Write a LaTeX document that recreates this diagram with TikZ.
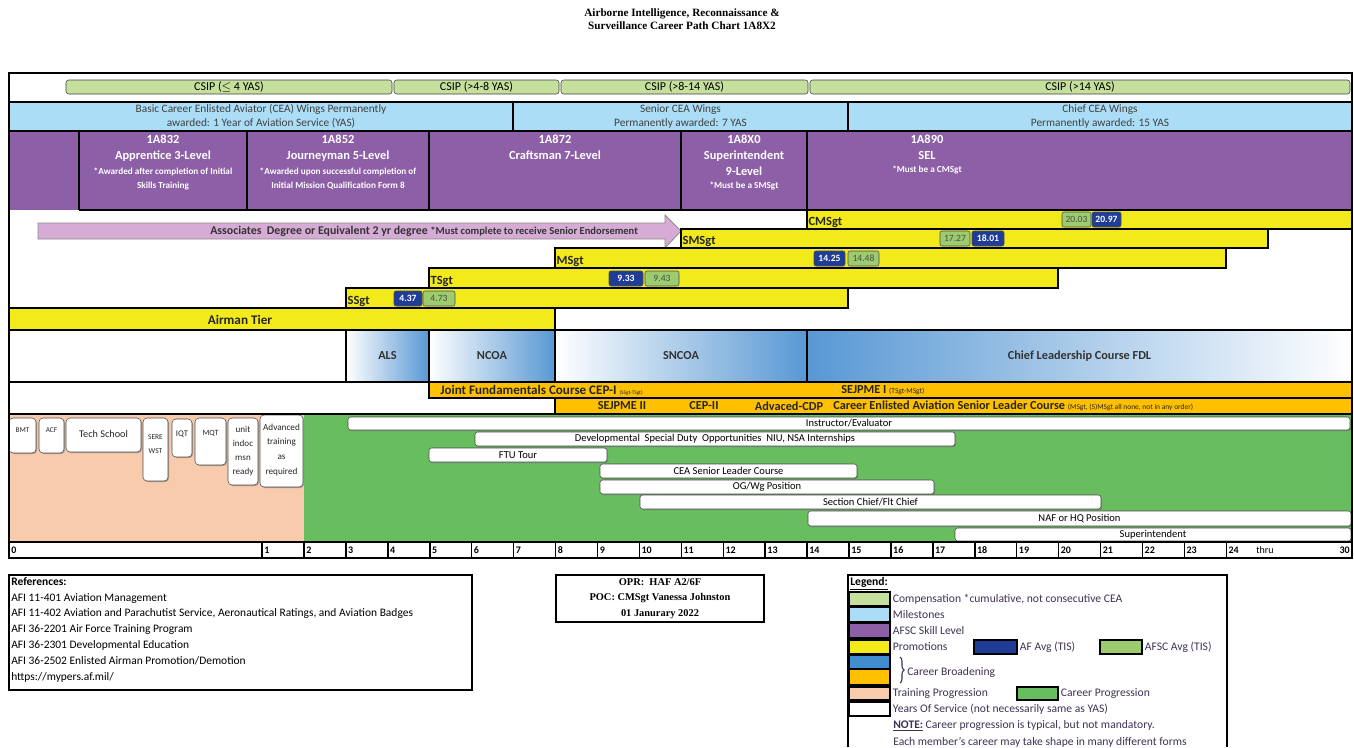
\documentclass[tikz,border=0pt]{standalone}
\usepackage{fontspec}
\setmainfont{Carlito}
\newfontfamily\titlefont{Liberation Serif}
\usetikzlibrary{positioning, fit, shadows, decorations.pathreplacing}

\definecolor{csipgreen}{RGB}{197,224,156}
\definecolor{mileblue}{RGB}{171,221,246}
\definecolor{afscpurple}{RGB}{141,95,167}
\definecolor{promoyellow}{RGB}{242,234,26}
\definecolor{afblue}{RGB}{31,61,150}
\definecolor{afscgreen}{RGB}{156,204,110}
\definecolor{brdblue}{RGB}{88,152,212}
\definecolor{lgblue}{RGB}{64,142,208}
\definecolor{pmeorange}{RGB}{255,192,0}
\definecolor{trainpeach}{RGB}{248,203,173}
\definecolor{careergreen}{RGB}{104,189,94}
\definecolor{degreepink}{RGB}{214,171,214}
\definecolor{legendtext}{RGB}{64,49,82}

\begin{document}
\begin{tikzpicture}[x=0.75pt, y=-0.75pt,
  cell/.style={inner sep=0pt, outer sep=0pt},
  boxtxt/.style={inner sep=0pt, align=center},
  csip/.style={cell, draw=black!75, fill=csipgreen, rounded corners=2pt,
    label={[boxtxt, font=\fontsize{9}{10}\selectfont]center:#1}},
  mile/.style={cell, fill=mileblue,
    label={[boxtxt, text=black!75, font=\fontsize{8.5}{10.5}\selectfont]center:#1}},
  afsc/.style={cell, fill=afscpurple},
  afsctxt/.style={inner sep=0pt, text=white, align=center,
    font=\bfseries\fontsize{9.3}{12}\selectfont},
  afscnote/.style={inner sep=0pt, text=white, align=center,
    font=\bfseries\fontsize{6.9}{10.5}\selectfont},
  promo/.style={cell, draw=black, line width=1pt, fill=promoyellow},
  rank/.style={inner sep=1pt, anchor=south west, text=black!85,
    font=\bfseries\fontsize{9.4}{10}\selectfont},
  afavg/.style={cell, draw=black!70, fill=afblue, rounded corners=1.5pt,
    label={[boxtxt, text=white, font=\bfseries\fontsize{7.2}{8}\selectfont]center:#1}},
  afscavg/.style={cell, draw=black!70, fill=afscgreen, rounded corners=1.5pt,
    label={[boxtxt, text=black!70, font=\fontsize{7.2}{8}\selectfont]center:#1}},
  brd/.style={cell, left color=white, right color=brdblue,
    label={[boxtxt, text=black!80, font=\bfseries\fontsize{9.2}{10}\selectfont]center:#1}},
  pme/.style={cell, fill=pmeorange},
  pmetxt/.style={inner sep=0pt, anchor=west, text=black!85,
    font=\bfseries\fontsize{9.2}{10}\selectfont},
  trainbox/.style={cell, draw=black!70, fill=white, rounded corners=3pt,
    drop shadow={shadow xshift=0.8pt, shadow yshift=-0.8pt, fill=black!60}},
  traintxt/.style={inner sep=0pt, align=center, text=black!85},
  job/.style={cell, draw=black!70, fill=white, rounded corners=2pt,
    drop shadow={shadow xshift=0.8pt, shadow yshift=-0.8pt, fill=black!60},
    label={[boxtxt, font=\fontsize{7.9}{8}\selectfont]center:#1}},
  yr/.style={inner sep=1.5pt, anchor=west, font=\bfseries\fontsize{7.5}{8}\selectfont},
  frame/.style={line width=1.6pt},
  rule/.style={line width=1.1pt},
  swatch/.style={cell, draw=black, line width=1.2pt},
  lgtxt/.style={inner sep=0pt, anchor=west, text=legendtext,
    font=\fontsize{8.7}{9}\selectfont},
]
\useasboundingbox (0,0) rectangle (1354,747);

% Title
\node[align=center, font=\titlefont\bfseries\fontsize{8.4}{9.8}\selectfont] (title)
  at (682,19) {Airborne Intelligence, Reconnaissance \&\\Surveillance Career Path Chart 1A8X2};

% CSIP
\node[csip={CSIP (\(\leq\) 4 YAS)}, fit={(66,80) (392,94)}] (csip1) {};
\node[csip={CSIP (>4-8 YAS)}, fit={(394,80) (559,94)}] (csip2) {};
\node[csip={CSIP (>8-14 YAS)}, fit={(561,80) (808,94)}] (csip3) {};
\node[csip={CSIP (>14 YAS)}, fit={(810,80) (1350,94)}] (csip4) {};

% Milestones
\node[mile={Basic Career Enlisted Aviator (CEA) Wings Permanently\\awarded: 1 Year of Aviation Service (YAS)},
  fit={(9,102) (513,131)}] (wings1) {};
\node[mile={Senior CEA Wings\\Permanently awarded: 7 YAS}, fit={(513,102) (848,131)}] (wings2) {};
\node[mile={Chief CEA Wings\\Permanently awarded: 15 YAS}, fit={(848,102) (1352,131)}] (wings3) {};

% Skill levels
\node[afsc, fit={(9,131) (1352,210)}] (afscrow) {};
\node[afsctxt, anchor=north] (lvl3) at (163,135) {1A832\\Apprentice 3-Level};
\node[afscnote, below=4pt of lvl3] (lvl3note) {*Awarded after completion of Initial\\Skills Training};
\node[afsctxt, anchor=north] (lvl5) at (338,135) {1A852\\Journeyman 5-Level};
\node[afscnote, below=4pt of lvl5] (lvl5note) {*Awarded upon successful completion of\\Initial Mission Qualification Form 8};
\node[afsctxt, anchor=north] (lvl7) at (555,135) {1A872\\Craftsman 7-Level};
\node[afsctxt, anchor=north] (lvl9) at (744,135) {1A8X0\\Superintendent\\9-Level};
\node[afscnote, below=4pt of lvl9] (lvl9note) {*Must be a SMSgt};
\node[afsctxt, anchor=north] (lvlsel) at (927,135) {1A890\\SEL};
\node[afscnote, below=4pt of lvlsel] (lvlselnote) {*Must be a CMSgt};

% Degree arrow
\filldraw[fill=degreepink, draw=black!45, line width=0.6pt]
  (38,223) -- (665,223) -- (665,215) -- (681,231) -- (665,248) -- (665,239) -- (38,239) -- cycle;
\node[inner sep=0pt, anchor=west, text=black!80, font=\bfseries\fontsize{8.9}{9}\selectfont] (degree)
  at (210,231) {Associates\ \ Degree or Equivalent 2 yr degree {\fontsize{7.9}{8}\selectfont *Must complete to receive Senior Endorsement}};

% Promotions
\node[promo, fit={(807,210) (1352,229)}] (cmsgt) {};
\node[rank] (cmsgtlbl) at (cmsgt.south west) {CMSgt};
\node[afscavg=20.03, fit={(1062,212) (1091,227)}] (cmsgtafsc) {};
\node[afavg=20.97, fit={(1092,212) (1121,227)}] (cmsgtaf) {};

\node[promo, fit={(681,229) (1268,248)}] (smsgt) {};
\node[rank] (smsgtlbl) at (smsgt.south west) {SMSgt};
\node[afscavg=17.27, fit={(940,231) (970,246)}] (smsgtafsc) {};
\node[afavg=18.01, fit={(972,231) (1004,246)}] (smsgtaf) {};

\node[promo, fit={(555,248) (1226,268)}] (msgt) {};
\node[rank] (msgtlbl) at (msgt.south west) {MSgt};
\node[afavg=14.25, fit={(814,251) (845,266)}] (msgtaf) {};
\node[afscavg=14.48, fit={(848,251) (879,266)}] (msgtafsc) {};

\node[promo, fit={(429,268) (1058,288)}] (tsgt) {};
\node[rank] (tsgtlbl) at (tsgt.south west) {TSgt};
\node[afavg=9.33, fit={(609,271) (643,286)}] (tsgtaf) {};
\node[afscavg=9.43, fit={(645,271) (679,286)}] (tsgtafsc) {};

\node[promo, fit={(346,288) (848,308)}] (ssgt) {};
\node[rank] (ssgtlbl) at (ssgt.south west) {SSgt};
\node[afavg=4.37, fit={(394,291) (422,306)}] (ssgtaf) {};
\node[afscavg=4.73, fit={(423,291) (455,306)}] (ssgtafsc) {};

\node[promo, fit={(9,308) (555,330)}] (airman) {};
\node[inner sep=0pt, text=black!85, font=\bfseries\fontsize{9.9}{10}\selectfont] (airmanlbl)
  at (240,320) {Airman Tier};

% Career broadening (PME)
\node[brd=ALS, fit={(346,330) (429,382)}] (als) {};
\node[brd=NCOA, fit={(429,330) (555,382)}] (ncoa) {};
\node[brd=SNCOA, fit={(555,330) (807,382)}] (sncoa) {};
\node[brd={Chief Leadership Course FDL}, left color=brdblue, right color=white,
  fit={(807,330) (1352,382)}] (clc) {};

\node[pme, fit={(429,382) (1352,398)}] (pmetop) {};
\node[pme, fit={(555,398) (1352,414)}] (pmebot) {};
\node[pmetxt, font=\bfseries\fontsize{9.8}{10}\selectfont] (jfc) at (440,390)
  {Joint Fundamentals Course CEP-I {\fontsize{4}{5}\selectfont\mdseries (SSgt-TSgt)}};
\node[pmetxt] (sejpme1) at (841,390)
  {SEJPME I {\fontsize{5.6}{6}\selectfont\mdseries (TSgt-MSgt)}};
\node[pmetxt, anchor=center] (sejpme2) at (622,406) {SEJPME II};
\node[pmetxt, anchor=center] (cep2) at (704,406) {CEP-II};
\node[pmetxt, anchor=center] (acdp) at (789,406) {Advaced-CDP};
\node[pmetxt] (ceaslc) at (833,406)
  {Career Enlisted Aviation Senior Leader Course\ {\fontsize{5.6}{6}\selectfont\mdseries (MSgt, (S)MSgt all none, not in any order)}};

% Training progression
\node[cell, fill=trainpeach, fit={(9,414) (304,542)}] (trainarea) {};
\node[cell, fill=careergreen, fit={(304,414) (1352,542)}] (careerarea) {};

\node[trainbox, fit={(9,418) (36,453)}] (bmt) {};
\node[traintxt, font=\fontsize{5.5}{6}\selectfont] (bmttxt) at (22.5,430) {BMT};
\node[trainbox, fit={(39,418) (64,453)}] (acf) {};
\node[traintxt, font=\fontsize{5.5}{6}\selectfont] (acftxt) at (51.5,430) {ACF};
\node[trainbox, fit={(66,418) (141,452)}] (tech) {};
\node[traintxt, font=\fontsize{7.7}{8}\selectfont] (techtxt) at (103.5,434) {Tech School};
\node[trainbox, fit={(143,418) (168,481)}] (sere) {};
\node[traintxt, font=\fontsize{5.6}{10.5}\selectfont] (seretxt) at (155.5,444) {SERE\\WST};
\node[trainbox, fit={(172,419) (192,457)}] (iqt) {};
\node[traintxt, font=\fontsize{6.5}{7}\selectfont] (iqttxt) at (182,434) {IQT};
\node[trainbox, fit={(195,418) (226,465)}] (mqt) {};
\node[traintxt, font=\fontsize{6}{7}\selectfont] (mqttxt) at (210.5,433) {MQT};
\node[trainbox, fit={(228,418) (258,485)}] (unit) {};
\node[traintxt, font=\fontsize{6.8}{10.5}\selectfont] (unittxt) at (243,451) {unit\\indoc\\msn\\ready};
\node[trainbox, fit={(260,415) (303,487)}] (adv) {};
\node[traintxt, font=\fontsize{6.9}{11.2}\selectfont] (advtxt) at (281.5,450) {Advanced\\training\\as\\required};

% Career progression
\node[job=Instructor/Evaluator, fit={(348,417) (1350,430)}] (instr) {};
\node[job={Developmental\ \ Special Duty\ \ Opportunities\ \ NIU, NSA Internships},
  fit={(475,432) (955,446)}] (dsd) {};
\node[job={FTU Tour}, fit={(429,448) (607,462)}] (ftu) {};
\node[job={CEA Senior Leader Course}, fit={(600,464) (857,478)}] (slc) {};
\node[job={OG/Wg Position}, fit={(600,480) (934,494)}] (ogwg) {};
\node[job={Section Chief/Flt Chief}, fit={(640,495) (1101,509)}] (secchief) {};
\node[job={NAF or HQ Position}, fit={(808,511) (1351,526)}] (nafhq) {};
\node[job=Superintendent, fit={(955,528) (1351,541)}] (supt) {};

% Years of service
\node[yr] (yr0) at (9,550) {0};
\foreach \n in {1,...,24}{
  \draw[rule] ({220.2+41.92*\n},542) -- ({220.2+41.92*\n},558);
  \node[yr] (yr\n) at ({220.2+41.92*\n},550) {\n};
}
\node[inner sep=0pt, font=\fontsize{7.5}{8}\selectfont] (thru) at (1265,550) {thru};
\node[yr, anchor=east] (yr30) at (1352,550) {30};

% Chart rules
\draw[rule] (9,102) -- (1352,102);
\draw[rule] (9,131) -- (1352,131);
\foreach \x in {513,848} \draw[rule] (\x,102) -- (\x,131);
\foreach \x in {79,247,429,681,807} \draw[rule] (\x,131) -- (\x,210);
\draw[rule] (79,210) -- (1352,210);
\draw[rule] (9,330) -- (1352,330);
\foreach \x in {346,429,555,807} \draw[rule] (\x,330) -- (\x,382);
\draw[rule] (9,382) -- (1352,382);
\draw[rule] (429,382) -- (429,398) -- (1352,398);
\draw[rule] (555,398) -- (555,414);
\draw[rule] (9,414) -- (1352,414);
\draw[rule] (9,542) -- (1352,542);
\draw[frame] (9,73) rectangle (1352,558);

% References
\node[cell, draw, line width=1.2pt, fit={(9,575) (472,690)}] (refbox) {};
\node[anchor=north west, align=left, inner sep=0pt, font=\fontsize{8.6}{11.9}\selectfont] (reftxt)
  at (11,577) {\textbf{References:}\\AFI 11-401 Aviation Management\\
  AFI 11-402 Aviation and Parachutist Service, Aeronautical Ratings, and Aviation Badges\\
  AFI 36-2201 Air Force Training Program\\AFI 36-2301 Developmental Education\\
  AFI 36-2502 Enlisted Airman Promotion/Demotion\\https://mypers.af.mil/};

% OPR
\node[cell, draw, line width=1.2pt, fit={(556,575) (764,622)}] (oprbox) {};
\node[align=center, inner sep=0pt, font=\titlefont\bfseries\fontsize{7.8}{11.6}\selectfont] (oprtxt)
  at (oprbox.center) {OPR:\ \ HAF A2/6F\\POC: CMSgt Vanessa Johnston\\01 Janurary 2022};

% Legend
\draw[line width=1.2pt] (848,747) -- (848,575) -- (1227,575) -- (1227,747);
\node[lgtxt, text=black, font=\bfseries\fontsize{8.7}{9}\selectfont] (lgtitle) at (850,584) {\underline{Legend:}};
\node[swatch, fill=csipgreen, fit={(849,592) (890,606)}] (lgcomp) {};
\node[lgtxt, right=2pt of lgcomp] (lgcomptxt) {Compensation *cumulative, not consecutive CEA};
\node[swatch, fill=mileblue, fit={(849,607) (890,622)}] (lgmile) {};
\node[lgtxt, right=2pt of lgmile] (lgmiletxt) {Milestones};
\node[swatch, fill=afscpurple, fit={(849,623) (890,638)}] (lgafsc) {};
\node[lgtxt, right=2pt of lgafsc] (lgafsctxt) {AFSC Skill Level};
\node[swatch, fill=promoyellow, fit={(849,640) (890,654)}] (lgpromo) {};
\node[lgtxt, right=2pt of lgpromo] (lgpromotxt) {Promotions};
\node[swatch, fill=afblue, fit={(974,640) (1017,654)}] (lgaf) {};
\node[lgtxt, right=2pt of lgaf] (lgaftxt) {AF Avg (TIS)};
\node[swatch, fill=afscgreen, fit={(1100,640) (1142,654)}] (lgafscavg) {};
\node[lgtxt, right=2pt of lgafscavg] (lgafscavgtxt) {AFSC Avg (TIS)};
\node[swatch, fill=lgblue, fit={(849,655) (890,669)}] (lgbrd) {};
\node[swatch, fill=pmeorange, fit={(849,669) (890,685)}] (lgpme) {};
\draw[legendtext, line width=0.8pt, decorate, decoration={brace, amplitude=3pt}]
  (900,657) -- (900,683);
\node[lgtxt] (lgbrdtxt) at (907,672) {Career Broadening};
\node[swatch, fill=trainpeach, fit={(849,687) (890,700)}] (lgtrain) {};
\node[lgtxt, right=2pt of lgtrain] (lgtraintxt) {Training Progression};
\node[swatch, fill=careergreen, fit={(1017,687) (1058,700)}] (lgcareer) {};
\node[lgtxt, right=2pt of lgcareer] (lgcareertxt) {Career Progression};
\node[swatch, fill=white, fit={(849,702) (890,716)}] (lgyos) {};
\node[lgtxt, right=2pt of lgyos] (lgyostxt) {Years Of Service (not necessarily same as YAS)};
\node[lgtxt] (lgnote) at (893,726)
  {\underline{\textbf{NOTE:}} Career progression is typical, but not mandatory.};
\node[lgtxt] (lgnote2) at (893,742) {Each member's career may take shape in many different forms};
\end{tikzpicture}
\end{document}
